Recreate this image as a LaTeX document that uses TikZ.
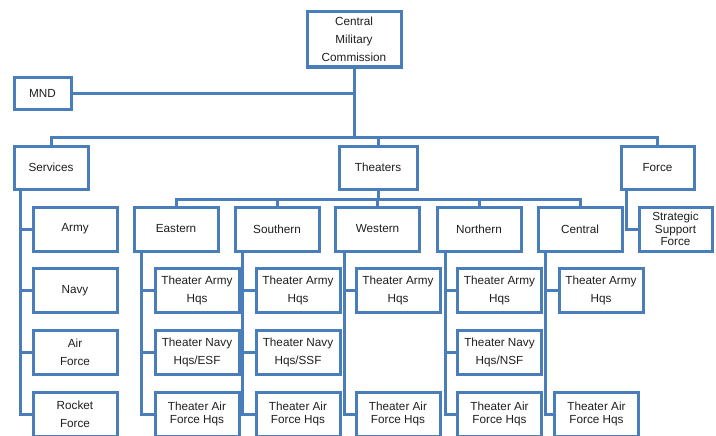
\documentclass[tikz,border=0pt]{standalone}
\usepackage{fontspec}
\setmainfont{Liberation Sans}
\usepackage{xcolor}
\definecolor{orgblue}{HTML}{4A7EBB}
\definecolor{orgtext}{HTML}{1F1F1F}
\usetikzlibrary{positioning}
\usetikzlibrary{calc}

\tikzset{
	unit/.style={draw=orgblue, line width=2.25pt, fill=white, text=orgtext, align=center,
		inner sep=1pt, font=\fontsize{8.8}{13.5}\selectfont,
		minimum width=63pt, minimum height=33pt},
	tight/.style={font=\fontsize{8.8}{9.4}\selectfont},
	link/.style={draw=orgblue, line width=2.25pt},
}

\begin{document}
\begin{tikzpicture}[x=0.75pt, y=-0.75pt]
		\useasboundingbox (0,0) rectangle (716,435);

		%top level
		\node[unit, minimum width=70.5pt, minimum height=41.25pt] (cmc) at (354,39.5) {Central\\Military\\Commission};
		\node[unit, minimum width=42.75pt, minimum height=24pt] (mnd) at (42.5,93) {MND};

		%second level
		\node[unit, minimum width=55.5pt, minimum height=32.25pt] (services) at (51,167.5) {Services};
		\node[unit, minimum width=58.5pt, minimum height=32.25pt] (theaters) at (378,167.5) {Theaters};
		\node[unit, minimum width=54.75pt, minimum height=32.25pt] (force) at (657.5,167.5) {Force};

		%services
		\node[unit] (army) at (75,229) {Army};
		\node[unit] (navy) at (75,290.5) {Navy};
		\node[unit] (airf) at (75,352) {Air\\Force};
		\node[unit] (rocket) at (75,414) {Rocket\\Force};

		%theaters
		\node[unit] (eastern) at (176,229) {Eastern};
		\node[unit] (southern) at (277,229) {Southern};
		\node[unit] (western) at (377.5,229) {Western};
		\node[unit] (northern) at (479,229) {Northern};
		\node[unit] (central) at (580,229) {Central};

		%force
		\node[unit, tight, minimum width=54.75pt] (ssf) at (675.5,229) {Strategic\\Support\\Force};

		%theater headquarters
		\node[unit] (eastarmy) at (197,290.5) {Theater Army\\Hqs};
		\node[unit] (eastnavy) at (197,352) {Theater Navy\\Hqs/ESF};
		\node[unit, tight] (eastair) at (197,414) {Theater Air\\Force Hqs};
		\node[unit] (southarmy) at (298,290.5) {Theater Army\\Hqs};
		\node[unit] (southnavy) at (298,352) {Theater Navy\\Hqs/SSF};
		\node[unit, tight] (southair) at (298,414) {Theater Air\\Force Hqs};
		\node[unit] (westarmy) at (398,290.5) {Theater Army\\Hqs};
		\node[unit, tight] (westair) at (398,414) {Theater Air\\Force Hqs};
		\node[unit] (northarmy) at (499.5,290.5) {Theater Army\\Hqs};
		\node[unit] (northnavy) at (499.5,352) {Theater Navy\\Hqs/NSF};
		\node[unit, tight] (northair) at (499.5,414) {Theater Air\\Force Hqs};
		\node[unit] (centralarmy) at (601,290.5) {Theater Army\\Hqs};
		\node[unit, tight] (centralair) at (596.5,414) {Theater Air\\Force Hqs};

		%upper connectors
		\coordinate (bus) at (354,137);
		\coordinate (tbus) at (378,199);
		\draw[link] (mnd.east) -- (mnd.east -| cmc.south);
		\draw[link] (cmc.south) -- (bus);
		\draw[link] (services.north) |- (bus) -| (force.north);
		\draw[link] (theaters.north) -- (theaters.north |- bus);
		\draw[link] (theaters.south) -- (tbus);
		\draw[link] (eastern.north) |- (tbus) -| (central.north);
		\foreach \t in {southern,western,northern}
		\draw[link] (\t.north) -- (\t.north |- tbus);

		%hanging connectors
		\foreach \c in {army,navy,airf,rocket}
		\draw[link] ([xshift=6pt]services.south west) |- (\c.west);
		\draw[link] ([xshift=5.25pt]force.south west) |- (ssf.west);
		\foreach \c in {eastarmy,eastnavy,eastair}
		\draw[link] ([xshift=6.75pt]eastern.south west) |- (\c.west);
		\foreach \c in {southarmy,southnavy,southair}
		\draw[link] ([xshift=6.75pt]southern.south west) |- (\c.west);
		\foreach \c in {westarmy,westair}
		\draw[link] ([xshift=7.5pt]western.south west) |- (\c.west);
		\foreach \c in {northarmy,northnavy,northair}
		\draw[link] ([xshift=7.5pt]northern.south west) |- (\c.west);
		\foreach \c in {centralarmy,centralair}
		\draw[link] ([xshift=6.75pt]central.south west) |- (\c.west);
	\end{tikzpicture}
\end{document}
